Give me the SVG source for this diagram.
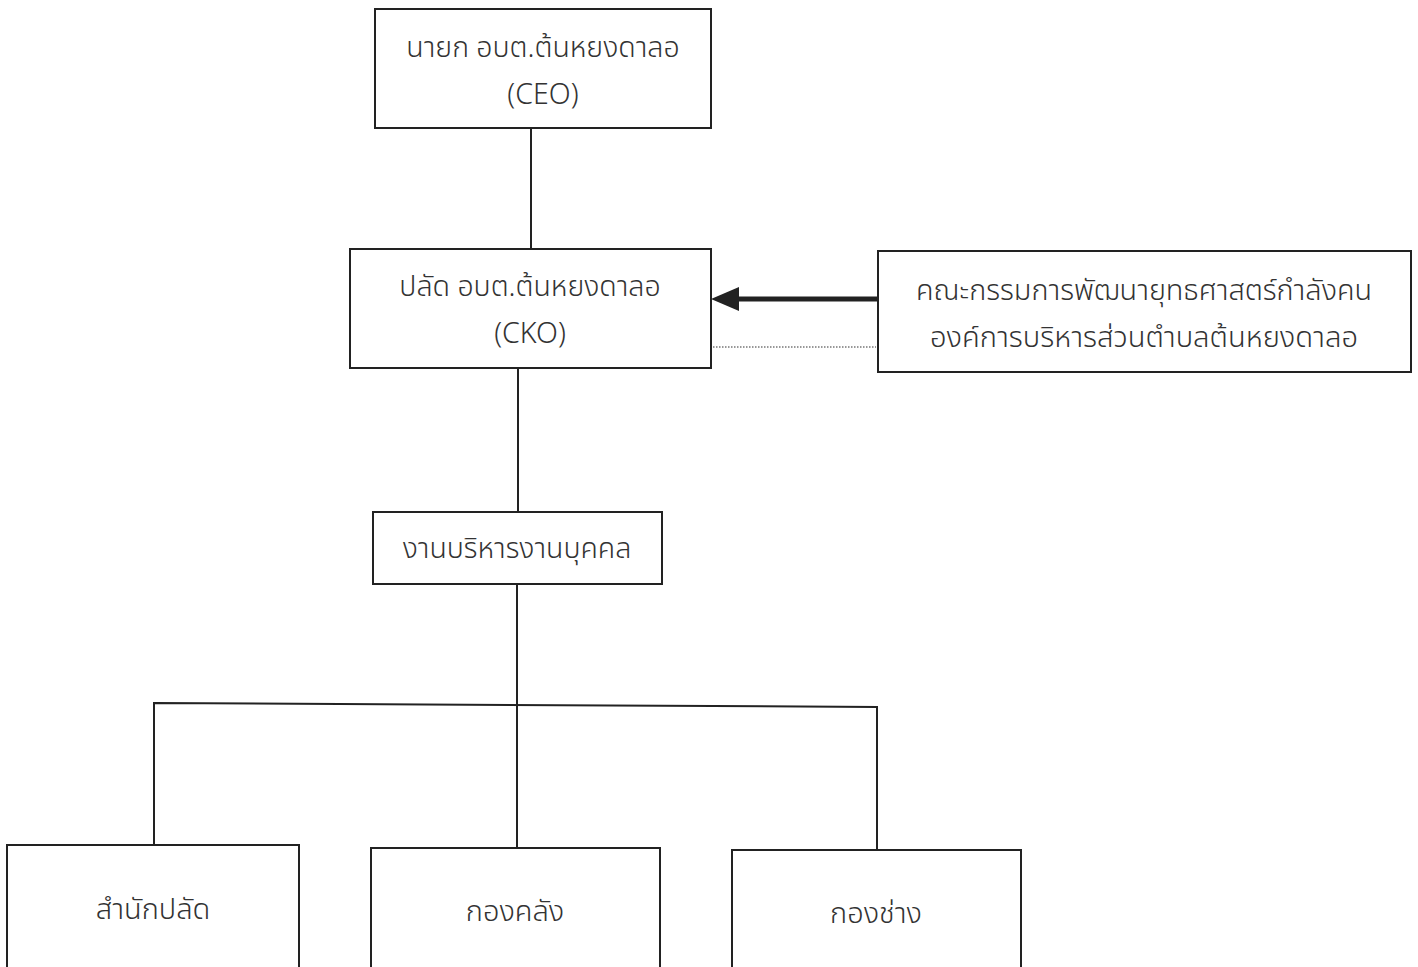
<svg xmlns="http://www.w3.org/2000/svg" width="1418" height="967" viewBox="0 0 1418 967">
<style>
.box{fill:#fff;stroke:#222;stroke-width:2}
.ln{fill:none;stroke:#222;stroke-width:2}
.t{font-family:"Noto Sans Thai","Noto Sans","Liberation Sans",sans-serif;font-size:28.5px;font-weight:350;fill:#333;text-anchor:middle}
.c{font-family:"Noto Sans Thai","Liberation Sans Narrow","Liberation Sans",sans-serif;font-size:29px;font-weight:350;fill:#333;text-anchor:middle}
</style>
<rect width="1418" height="967" fill="#fff"/>
<g id="connectors">
<line class="ln" x1="531" y1="128" x2="531" y2="249"/>
<line class="ln" x1="518" y1="368" x2="518" y2="512"/>
<line class="ln" x1="517" y1="584" x2="517" y2="848"/>
<polyline class="ln" points="154,845 154,703 877,707 877,850"/>
<line x1="878" y1="299" x2="738" y2="299" stroke="#222" stroke-width="5"/>
<path d="M711,299 L739,287 L739,311 Z" fill="#222"/>
<line x1="713" y1="347" x2="876" y2="347" stroke="#333" stroke-width="1.2" stroke-dasharray="1.5,1.5"/>
</g>
<g id="ceo">
<rect class="box" x="375" y="9" width="336" height="119"/>
<text class="t" x="543" y="57">นายก อบต.ต้นหยงดาลอ</text>
<text class="t" x="543" y="104">(CEO)</text>
</g>
<g id="cko">
<rect class="box" x="350" y="249" width="361" height="119"/>
<text class="t" x="530" y="296">ปลัด อบต.ต้นหยงดาลอ</text>
<text class="t" x="530" y="343">(CKO)</text>
</g>
<g id="committee">
<rect class="box" x="878" y="251" width="533" height="121"/>
<text class="c" x="1144" y="300" textLength="456" lengthAdjust="spacingAndGlyphs">คณะกรรมการพัฒนายุทธศาสตร์กำลังคน</text>
<text class="c" x="1144" y="347" textLength="428" lengthAdjust="spacingAndGlyphs">องค์การบริหารส่วนตำบลต้นหยงดาลอ</text>
</g>
<g id="hr">
<rect class="box" x="373" y="512" width="289" height="72"/>
<text class="t" x="517" y="558">งานบริหารงานบุคคล</text>
</g>
<g id="office">
<rect class="box" x="7" y="845" width="292" height="140"/>
<text class="c" x="153" y="919">สำนักปลัด</text>
</g>
<g id="finance">
<rect class="box" x="371" y="848" width="289" height="140"/>
<text class="c" x="515" y="921">กองคลัง</text>
</g>
<g id="works">
<rect class="box" x="732" y="850" width="289" height="140"/>
<text class="c" x="876" y="923">กองช่าง</text>
</g>
</svg>
